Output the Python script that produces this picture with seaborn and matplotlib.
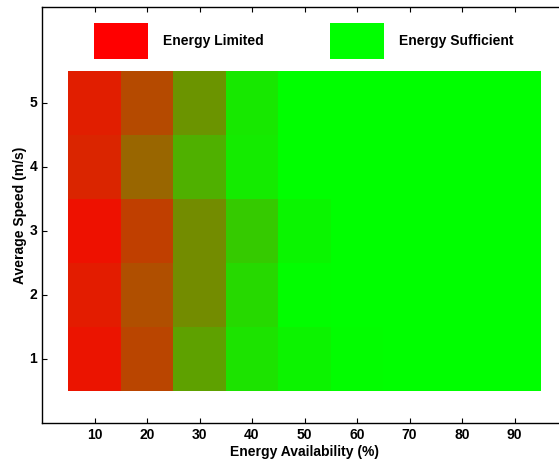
import numpy as np
import pandas as pd
import matplotlib
matplotlib.use("Agg")
import matplotlib.pyplot as plt
import seaborn as sns
from matplotlib.colors import LinearSegmentedColormap
from matplotlib.patches import Patch

energy = [10, 20, 30, 40, 50, 60, 70, 80, 90]
speeds = [1, 2, 3, 4, 5]
# fraction "energy limited" per cell (1 = red, 0 = green)
speed1 = [0.92, 0.73, 0.37, 0.11, 0.05, 0.01, 0.0, 0.0, 0.0]
speed2 = [0.89, 0.69, 0.45, 0.15, 0.01, 0.0, 0.0, 0.0, 0.0]
speed3 = [0.93, 0.75, 0.45, 0.21, 0.04, 0.0, 0.0, 0.0, 0.0]
speed4 = [0.855, 0.60, 0.31, 0.08, 0.0, 0.0, 0.0, 0.0, 0.0]
speed5 = [0.88, 0.71, 0.42, 0.09, 0.0, 0.0, 0.0, 0.0, 0.0]
legend_labels = ["Energy Limited", "Energy Sufficient"]

sns.set_style("white")
plt.rcParams["font.family"] = ["Liberation Sans", "DejaVu Sans"]
plt.rcParams["font.weight"] = "bold"
for key in ["text.color", "axes.labelcolor", "xtick.color", "ytick.color"]:
    plt.rcParams[key] = "black"

df = pd.DataFrame([speed5, speed4, speed3, speed2, speed1],
                  index=speeds[::-1], columns=energy)

cmap = LinearSegmentedColormap.from_list("rg", [(0, 1, 0), (1, 0, 0)])

W, H = 559, 461
ax_left, ax_bottom, ax_top, ax_w = 42, 422.7, 7.5, 525
ax_h = ax_bottom - ax_top
fig = plt.figure(figsize=(W / 100, H / 100), dpi=100)
ax = fig.add_axes([ax_left / W, (H - ax_bottom) / H, ax_w / W, ax_h / H])
sns.heatmap(df, cmap=cmap, vmin=0, vmax=1, cbar=False, ax=ax)

# heatmap cell i spans energy (5+10i .. 15+10i); data x 0..100 -> -0.5..9.5
ax.set_xlim(-0.5, 9.5)
# rows: speed 5 at top; data y 0..6.5 -> 5.5..-1
ax.set_ylim(5.5, -1.0)
ax.set_xticks(np.arange(len(energy)) + 0.5)
ax.set_xticklabels([str(e) for e in energy], rotation=0, fontsize=10, fontweight="bold")
ax.set_yticks(np.arange(len(speeds)) + 0.5)
ax.set_yticklabels([str(s) for s in speeds[::-1]], rotation=0, fontsize=10, fontweight="bold")
ax.tick_params(axis="x", direction="in", top=True, bottom=True, length=3.6, width=0.8, pad=4,
               colors="black")
ax.tick_params(axis="y", direction="in", left=True, right=False, length=3.6, width=0.8, pad=3.5,
               colors="black")
for s in ax.spines.values():
    s.set_visible(True)
    s.set_linewidth(1.0)
    s.set_color("black")

ax.set_xlabel("Energy Availability (%)", fontsize=10, fontweight="bold", labelpad=2, color="black")
ax.set_ylabel("Average Speed (m/s)", fontsize=10, fontweight="bold", labelpad=2, color="black")

handles = [Patch(facecolor=(1, 0, 0), edgecolor="none"),
           Patch(facecolor=(0, 1, 0), edgecolor="none")]
leg = ax.legend(handles, legend_labels, ncol=2, frameon=False,
                loc="upper left",
                bbox_to_anchor=((94 - ax_left) / ax_w, (ax_bottom - 23) / ax_h),
                handlelength=3.89, handleheight=3.61, handletextpad=1.08,
                columnspacing=4.75, prop={"size": 10, "weight": "bold"},
                borderaxespad=0, borderpad=0, labelcolor="black")

fig.savefig("out.png", dpi=100)
